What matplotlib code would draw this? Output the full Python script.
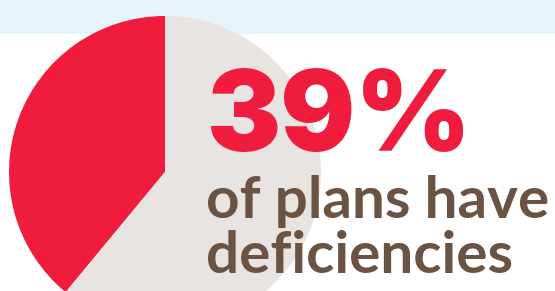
import matplotlib
matplotlib.use("Agg")
import matplotlib.pyplot as plt

labels = ["Plans with deficiencies", "Other plans"]
shares = [39, 61]
colors = ["#ef1c3d", "#e8e4e1"]
headline = "39%"
line1 = "of plans have"
line2 = "deficiencies"

W, H = 555, 291
fig = plt.figure(figsize=(W / 100, H / 100), dpi=100)
ax = fig.add_axes([0, 0, 1, 1])

ax.axhspan(H - 33, H, color="#e5f4f9", zorder=0)

ax.pie(shares, colors=colors, startangle=90, counterclock=True,
       center=(165, H - 172), radius=156, frame=True,
       wedgeprops=dict(linewidth=0, zorder=1))
ax.set_xlim(0, W)
ax.set_ylim(0, H)
ax.set_aspect("equal")
ax.axis("off")

ax.text(207, H - 151, headline, fontsize=80, fontweight="black",
        family="Inter", color="#ef1c3d", ha="left", va="baseline", zorder=3)
ax.text(206, H - 218, line1, fontsize=42, fontweight="bold",
        family="Lato", color="#6b5343", ha="left", va="baseline", zorder=3)
ax.text(206, H - 273, line2, fontsize=42, fontweight="bold",
        family="Lato", color="#6b5343", ha="left", va="baseline", zorder=3)

fig.savefig("out.png", dpi=100)
